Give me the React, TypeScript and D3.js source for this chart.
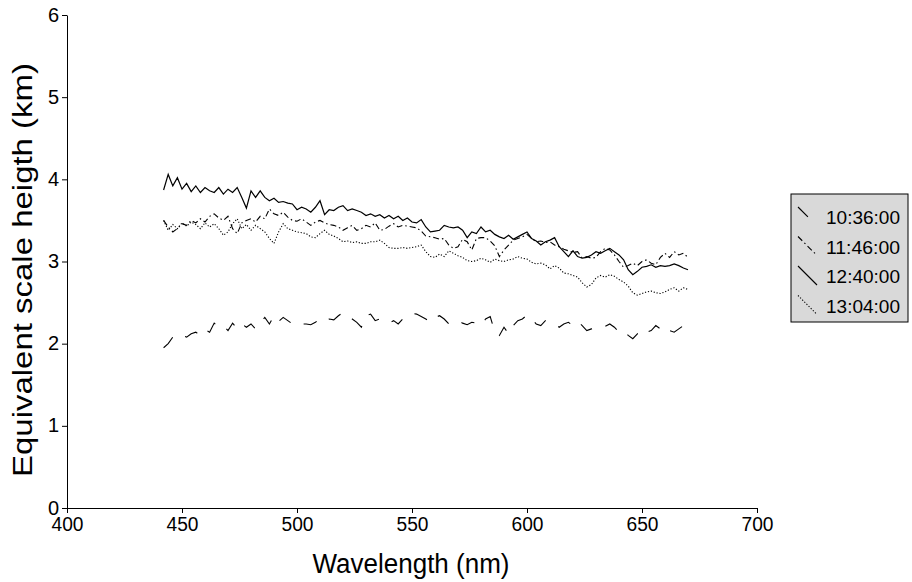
import React, { useEffect, useRef } from 'react';
import * as d3 from 'd3';

// wavelength grid of the spectra (nm)
const wavelengths = d3.range(442, 671, 2);

// 10:36:00 - long dash
const s1036 = [
  1.95, 2.00, 2.08, 2.12, 2.10, 2.08, 2.12, 2.14, 2.10, 2.17,
  2.14, 2.25, 2.20, 2.22, 2.16, 2.25, 2.18, 2.24, 2.20, 2.24,
  2.18, 2.25, 2.32, 2.24, 2.34, 2.27, 2.32, 2.28, 2.24, 2.26,
  2.24, 2.24, 2.23, 2.26, 2.30, 2.27, 2.30, 2.29, 2.34, 2.38,
  2.34, 2.30, 2.26, 2.20, 2.34, 2.36, 2.28, 2.30, 2.28, 2.25,
  2.28, 2.24, 2.30, 2.33, 2.37, 2.36, 2.33, 2.30, 2.26, 2.32,
  2.34, 2.30, 2.24, 2.26, 2.28, 2.25, 2.23, 2.26, 2.25, 2.22,
  2.30, 2.33, 2.14, 2.10, 2.20, 2.12, 2.22, 2.28, 2.30, 2.35,
  2.30, 2.24, 2.22, 2.28, 2.25, 2.24, 2.20, 2.24, 2.26, 2.22,
  2.27, 2.22, 2.16, 2.18, 2.20, 2.22, 2.21, 2.24, 2.20, 2.14,
  2.16, 2.10, 2.06, 2.12, 2.18, 2.14, 2.16, 2.22, 2.18, 2.12,
  2.16, 2.14, 2.18, 2.22, 2.25,
];

// 11:46:00 - dash dot
const s1146 = [
  3.50, 3.42, 3.36, 3.40, 3.46, 3.44, 3.50, 3.47, 3.52, 3.48,
  3.55, 3.58, 3.53, 3.50, 3.55, 3.40, 3.34, 3.47, 3.50, 3.52,
  3.48, 3.55, 3.52, 3.64, 3.58, 3.56, 3.60, 3.54, 3.50, 3.49,
  3.52, 3.48, 3.44, 3.48, 3.50, 3.47, 3.45, 3.44, 3.42, 3.38,
  3.41, 3.44, 3.38, 3.40, 3.44, 3.42, 3.47, 3.38, 3.39, 3.43,
  3.46, 3.42, 3.44, 3.43, 3.42, 3.41, 3.37, 3.31, 3.30, 3.29,
  3.27, 3.28, 3.20, 3.16, 3.18, 3.27, 3.24, 3.14, 3.28, 3.29,
  3.29, 3.25, 3.19, 3.06, 3.14, 3.20, 3.26, 3.28, 3.30, 3.33,
  3.28, 3.24, 3.25, 3.23, 3.24, 3.20, 3.18, 3.15, 3.13, 3.11,
  3.12, 3.04, 3.06, 3.04, 3.05, 3.12, 3.16, 3.14, 3.08, 3.00,
  2.93, 2.95, 2.98, 2.95, 3.00, 3.02, 2.98, 2.96, 3.05, 3.10,
  3.05, 3.12, 3.08, 3.10, 3.05,
];

// 12:40:00 - solid
const s1240 = [
  3.87, 4.06, 3.92, 4.02, 3.88, 3.95, 3.85, 3.92, 3.84, 3.90,
  3.86, 3.84, 3.90, 3.82, 3.88, 3.84, 3.90, 3.78, 3.65, 3.86,
  3.78, 3.86, 3.78, 3.74, 3.77, 3.72, 3.73, 3.71, 3.70, 3.63,
  3.66, 3.64, 3.60, 3.66, 3.74, 3.57, 3.63, 3.62, 3.66, 3.68,
  3.62, 3.64, 3.62, 3.60, 3.56, 3.58, 3.55, 3.57, 3.53, 3.56,
  3.52, 3.55, 3.50, 3.53, 3.48, 3.47, 3.51, 3.42, 3.36, 3.37,
  3.38, 3.44, 3.42, 3.41, 3.42, 3.38, 3.29, 3.36, 3.34, 3.42,
  3.36, 3.38, 3.33, 3.30, 3.28, 3.32, 3.27, 3.30, 3.33, 3.36,
  3.28, 3.25, 3.20, 3.24, 3.26, 3.29, 3.18, 3.12, 3.06, 3.13,
  3.06, 3.04, 3.05, 3.08, 3.12, 3.10, 3.13, 3.16, 3.12, 3.08,
  3.02, 2.90, 2.84, 2.88, 2.93, 2.94, 2.96, 2.93, 2.95, 2.94,
  2.95, 2.97, 2.95, 2.92, 2.90,
];

// 13:04:00 - dotted
const s1304 = [
  3.50, 3.38, 3.45, 3.40, 3.47, 3.43, 3.48, 3.45, 3.40, 3.47,
  3.42, 3.46, 3.40, 3.32, 3.36, 3.46, 3.52, 3.40, 3.45, 3.38,
  3.44, 3.40, 3.36, 3.28, 3.22, 3.36, 3.46, 3.40, 3.38, 3.36,
  3.35, 3.34, 3.30, 3.29, 3.34, 3.38, 3.33, 3.31, 3.28, 3.24,
  3.25, 3.23, 3.24, 3.22, 3.22, 3.24, 3.24, 3.26, 3.22, 3.17,
  3.16, 3.16, 3.17, 3.16, 3.17, 3.18, 3.20, 3.12, 3.06, 3.05,
  3.09, 3.06, 3.13, 3.10, 3.07, 3.05, 3.01, 3.00, 3.01, 3.04,
  3.02, 2.99, 3.03, 3.01, 3.00, 3.02, 3.03, 3.06, 3.04, 3.03,
  2.99, 2.97, 2.98, 2.96, 2.91, 2.95, 2.92, 2.86, 2.85, 2.83,
  2.81, 2.74, 2.69, 2.72, 2.80, 2.83, 2.81, 2.84, 2.82, 2.78,
  2.75, 2.70, 2.62, 2.59, 2.61, 2.63, 2.64, 2.62, 2.61, 2.63,
  2.66, 2.68, 2.64, 2.68, 2.66,
];

const seriesNames = ['10:36:00', '11:46:00', '12:40:00', '13:04:00'];
const seriesValues = [s1036, s1146, s1240, s1304];
const dashes = ['14,14', '6,3,1.5,3', null, '1.2,1.8'];

const xTicks = [400, 450, 500, 550, 600, 650, 700];
const yTicks = [0, 1, 2, 3, 4, 5, 6];

const FONT = '"Liberation Sans", Arial, sans-serif';

export default function App() {
  const ref = useRef<SVGSVGElement>(null);

  useEffect(() => {
    const svg = d3.select(ref.current);
    svg.selectAll('*').remove();

    const width = 912;
    const height = 582;
    svg.attr('width', width).attr('height', height);

    svg.append('rect').attr('width', width).attr('height', height).attr('fill', 'white');

    const x = d3.scaleLinear().domain([400, 700]).range([67, 757]);
    const y = d3.scaleLinear().domain([0, 6]).range([508, 15]);

    // axes
    const yAxis = svg.append('g')
      .attr('transform', `translate(${x(400)},0)`)
      .call(d3.axisLeft(y).tickValues(yTicks).tickSize(5).tickSizeOuter(0).tickPadding(3).tickFormat(d3.format('d')));
    const xAxis = svg.append('g')
      .attr('transform', `translate(0,${y(0)})`)
      .call(d3.axisBottom(x).tickValues(xTicks).tickSize(5).tickSizeOuter(0).tickPadding(4).tickFormat(d3.format('d')));

    [xAxis, yAxis].forEach(a => {
      a.selectAll('path, line').attr('stroke', '#000').attr('stroke-width', 1);
      a.selectAll('text')
        .attr('fill', '#000')
        .style('font-family', FONT)
        .style('font-size', '20px');
    });
    xAxis.selectAll('text').attr('textLength', 32).attr('lengthAdjust', 'spacingAndGlyphs');
    yAxis.selectAll('text').attr('dy', '0.3em');

    // lines
    const line = d3.line<number>()
      .x((d, i) => x(wavelengths[i]))
      .y(d => y(d));

    seriesValues.forEach((vals, i) => {
      svg.append('path')
        .datum(vals)
        .attr('d', line)
        .attr('fill', 'none')
        .attr('stroke', '#000')
        .attr('stroke-width', i === 2 ? 1.2 : 1.1)
        .attr('stroke-dasharray', dashes[i]);
    });

    // axis titles
    svg.append('text')
      .attr('x', 411)
      .attr('y', 573)
      .attr('text-anchor', 'middle')
      .attr('textLength', 197)
      .attr('lengthAdjust', 'spacingAndGlyphs')
      .style('font-family', FONT)
      .style('font-size', '27px')
      .text('Wavelength (nm)');

    svg.append('text')
      .attr('transform', `translate(32,270) rotate(-90)`)
      .attr('text-anchor', 'middle')
      .attr('textLength', 414)
      .attr('lengthAdjust', 'spacingAndGlyphs')
      .style('font-family', FONT)
      .style('font-size', '27px')
      .text('Equivalent scale heigth (km)');

    // legend
    const legend = svg.append('g');
    legend.append('rect')
      .attr('x', 791)
      .attr('y', 194)
      .attr('width', 117)
      .attr('height', 128)
      .attr('fill', '#d9d9d9')
      .attr('stroke', '#000');

    seriesNames.forEach((name, i) => {
      const cy = 217 + i * 29.5;
      legend.append('line')
        .attr('x1', 798).attr('y1', cy - 10)
        .attr('x2', 817).attr('y2', cy + 9)
        .attr('stroke', '#000')
        .attr('stroke-width', 1.1)
        .attr('stroke-dasharray', dashes[i]);
      legend.append('text')
        .attr('x', 826)
        .attr('y', cy + 7)
        .attr('textLength', 74)
        .attr('lengthAdjust', 'spacingAndGlyphs')
        .style('font-family', FONT)
        .style('font-size', '19px')
        .text(name);
    });
  }, []);

  return <svg ref={ref} style={{ position: 'absolute', left: 0, top: 0 }}></svg>;
}
